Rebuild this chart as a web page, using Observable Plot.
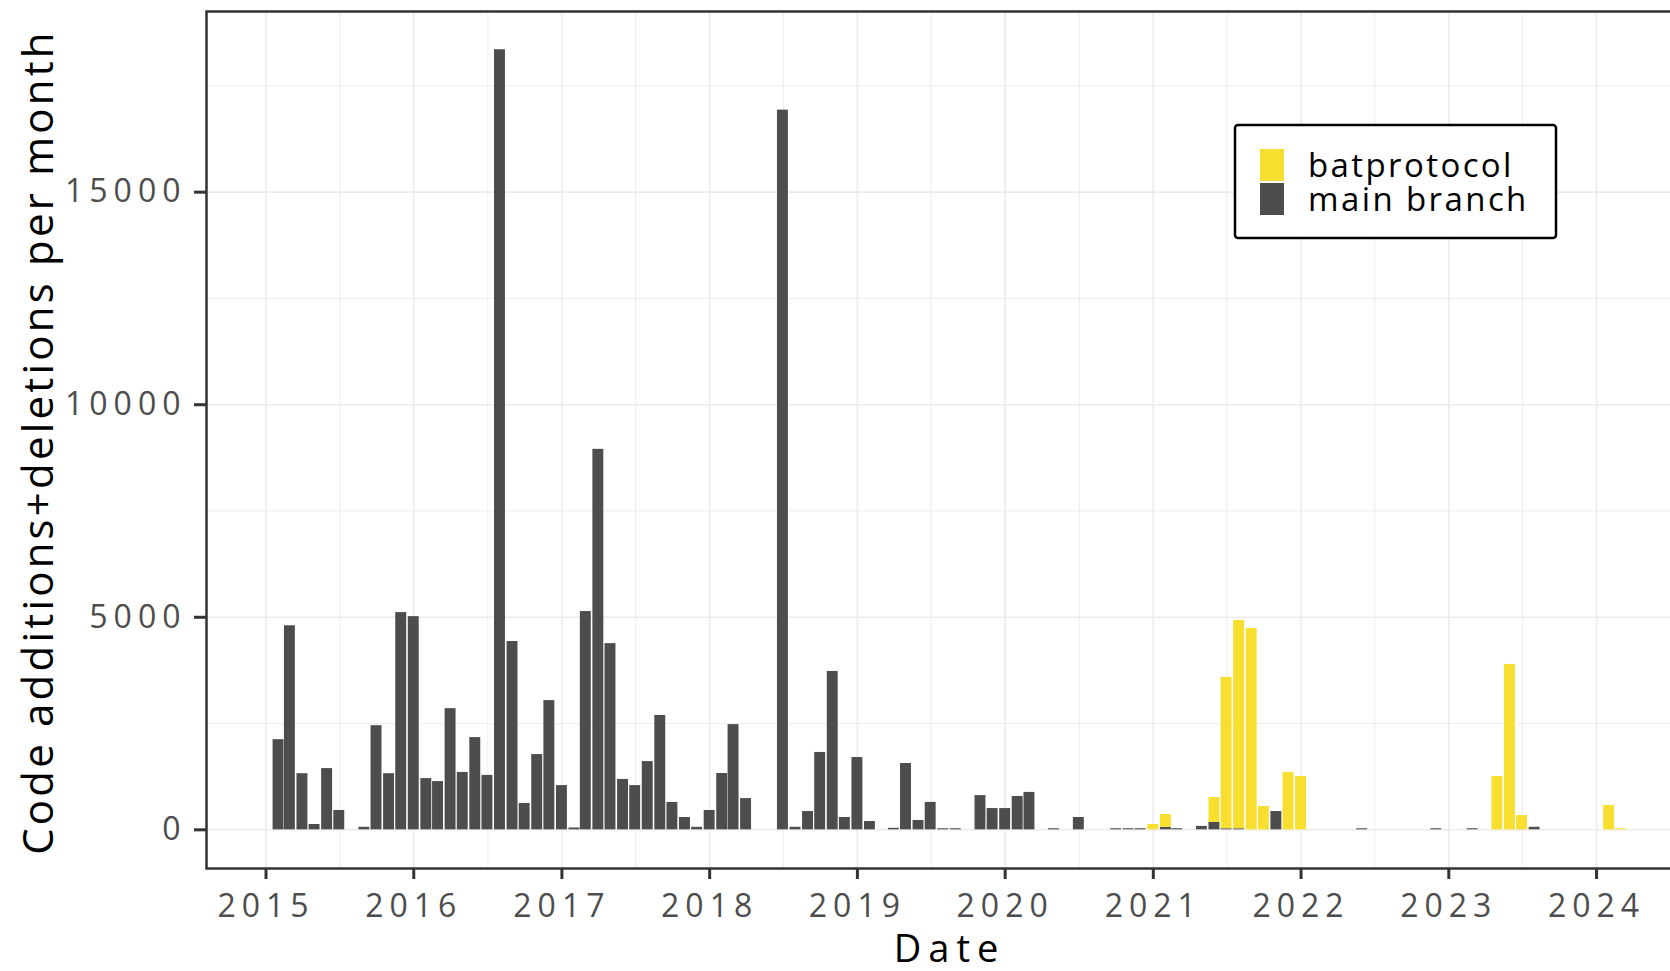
<!DOCTYPE html>
<html>
<head>
<meta charset="utf-8">
<script src="https://cdn.jsdelivr.net/npm/d3@7"></script>
<script src="https://cdn.jsdelivr.net/npm/@observablehq/plot@0.6"></script>
<style>
html, body { margin: 0; padding: 0; background: #fff; overflow: hidden; }
#wrap { position: relative; width: 1670px; height: 971px; overflow: hidden; background: #fff; }
#wrap svg { position: absolute; left: 0; top: 0; max-width: none !important; }
</style>
</head>
<body>
<div id="wrap"></div>
<script>
// ---- data ----
const mainMonths = [
  "2015-02","2015-03","2015-04","2015-05","2015-06","2015-07","2015-09","2015-10","2015-11","2015-12",
  "2016-01","2016-02","2016-03","2016-04","2016-05","2016-06","2016-07","2016-08","2016-09","2016-10","2016-11","2016-12",
  "2017-01","2017-02","2017-03","2017-04","2017-05","2017-06","2017-07","2017-08","2017-09","2017-10","2017-11","2017-12",
  "2018-01","2018-02","2018-03","2018-04","2018-07","2018-08","2018-09","2018-10","2018-11","2018-12",
  "2019-01","2019-02","2019-04","2019-05","2019-06","2019-07","2019-08","2019-09","2019-11","2019-12",
  "2020-01","2020-02","2020-03","2020-05","2020-07","2020-10","2020-11","2020-12",
  "2021-02","2021-03","2021-05","2021-06","2021-07","2021-08","2021-11",
  "2022-06","2022-12","2023-03","2023-08"
];
const mainValues = [
  2120, 4800, 1320, 125, 1440, 455, 59, 2450, 1320, 5110,
  5015, 1205, 1135, 2850, 1350, 2170, 1280, 18350, 4430, 620, 1770, 3040,
  1040, 43, 5135, 8950, 4380, 1185, 1040, 1605, 2690, 645, 290, 59,
  455, 1325, 2475, 735, 16930, 59, 430, 1820, 3725, 290,
  1700, 195, 35, 1560, 220, 645, 25, 25, 805, 500,
  500, 785, 880, 25, 290, 25, 25, 25,
  59, 25, 80, 172, 25, 25, 430,
  25, 25, 25, 59
];
const batMonths = [
  "2021-01","2021-02","2021-06","2021-07","2021-08","2021-09","2021-10","2021-12",
  "2022-01","2023-05","2023-06","2023-07","2024-02","2024-03"
];
const batValues = [
  125, 300, 588, 3560, 4900, 4735, 550, 1350,
  1255, 1255, 3890, 335, 572, 25
];
const seriesNames = ["batprotocol", "main branch"];
const seriesColors = ["#f8de2f", "#4d4d4d"];
const xTickYears = ["2015","2016","2017","2018","2019","2020","2021","2022","2023","2024"];
const xMinorDates = ["2015-07-02","2016-07-02","2017-07-02","2018-07-02","2019-07-02","2020-07-02","2021-07-02","2022-07-02","2023-07-02","2024-07-02"];
const yTicks = [0, 5000, 10000, 15000];
const yMinor = [2500, 7500, 12500, 17500];
const xTitle = "Date";
const yTitle = "Code additions+deletions per month";

// ---- build table ----
const parseMonth = d3.utcParse("%Y-%m");
const parseYear = d3.utcParse("%Y");
const parseDay = d3.utcParse("%Y-%m-%d");
const mainByMonth = new Map(mainMonths.map((m, i) => [m, mainValues[i]]));
const rows = [];
mainMonths.forEach((m, i) => rows.push({date: parseMonth(m), series: "main branch", y1: 0, y2: mainValues[i]}));
batMonths.forEach((m, i) => {
  const base = mainByMonth.get(m) || 0;
  rows.push({date: parseMonth(m), series: "batprotocol", y1: base, y2: base + batValues[i]});
});
const halfBarHours = 324; // 13.5 days

const majorX = xTickYears.map(parseYear);
const minorX = xMinorDates.map(parseDay);

const plot = Plot.plot({
  width: 1692,
  height: 971,
  marginLeft: 206,
  marginRight: 0,
  marginTop: 11,
  marginBottom: 103,
  style: {fontFamily: "'Open Sans', 'Noto Sans', sans-serif", background: "white", overflow: "visible", maxWidth: "none"},
  x: {type: "utc", domain: [parseDay("2014-08-07"), parseDay("2024-08-25")]},
  y: {domain: [-910, 19250]},
  color: {domain: seriesNames, range: seriesColors},
  marks: [
    Plot.ruleX(minorX, {stroke: "#ebebeb", strokeWidth: 0.9}),
    Plot.ruleY(yMinor, {stroke: "#ebebeb", strokeWidth: 0.9}),
    Plot.ruleX(majorX, {stroke: "#ebebeb", strokeWidth: 1.6}),
    Plot.ruleY(yTicks, {stroke: "#ebebeb", strokeWidth: 1.6}),
    Plot.rectY(rows, {
      x1: d => d3.utcHour.offset(d.date, -halfBarHours),
      x2: d => d3.utcHour.offset(d.date, halfBarHours),
      y1: "y1", y2: "y2", fill: "series"
    }),
    Plot.frame({stroke: "#333333", strokeWidth: 2.5}),
    Plot.axisX(majorX, {
      tickFormat: d3.utcFormat("%Y"), tickSize: 11, tickPadding: 15,
      fontSize: 32, stroke: "#333333", strokeWidth: 3, fill: "#4d4d4d", label: null
    }),
    Plot.axisY(yTicks, {
      tickFormat: d => String(d), tickSize: 12, tickPadding: 8,
      fontSize: 32, stroke: "#333333", strokeWidth: 3, fill: "#4d4d4d", label: null
    }),
    Plot.text([xTitle], {text: d => d, frameAnchor: "bottom", dy: 93, lineAnchor: "bottom", fontSize: 38, fill: "black"}),
    Plot.text([yTitle], {text: d => d, frameAnchor: "left", textAnchor: "middle", dx: -154, dy: 2, rotate: -90, lineAnchor: "bottom", fontSize: 42, fill: "black"})
  ]
});

const wrap = document.getElementById("wrap");
wrap.appendChild(plot);
plot.style.maxWidth = "none";

const svg = d3.select(plot);
svg.selectAll('g[aria-label="x-axis tick label"] text').style("letter-spacing", "6px");
svg.selectAll('g[aria-label="y-axis tick label"] text').style("letter-spacing", "6px");
svg.selectAll("text").filter(function() { return this.textContent === xTitle; }).style("letter-spacing", "7px");
svg.selectAll("text").filter(function() { return this.textContent === yTitle; }).style("letter-spacing", "3.2px");

// ---- legend (inside panel, top right) ----
const leg = d3.select(wrap).append("svg")
  .attr("width", 1670).attr("height", 971)
  .style("pointer-events", "none")
  .style("font-family", "'Open Sans', 'Noto Sans', sans-serif");
leg.append("rect")
  .attr("x", 1235).attr("y", 125).attr("width", 321).attr("height", 113)
  .attr("rx", 3).attr("fill", "white").attr("stroke", "black").attr("stroke-width", 2.5);
seriesNames.forEach((name, i) => {
  leg.append("rect")
    .attr("x", 1260).attr("y", 149 + i * 34).attr("width", 24).attr("height", 32)
    .attr("fill", seriesColors[i]);
  leg.append("text")
    .attr("x", 1308).attr("y", 177 + i * 33.5)
    .attr("font-size", 33).attr("fill", "black")
    .style("letter-spacing", "2.4px")
    .text(name);
});
</script>
</body>
</html>
